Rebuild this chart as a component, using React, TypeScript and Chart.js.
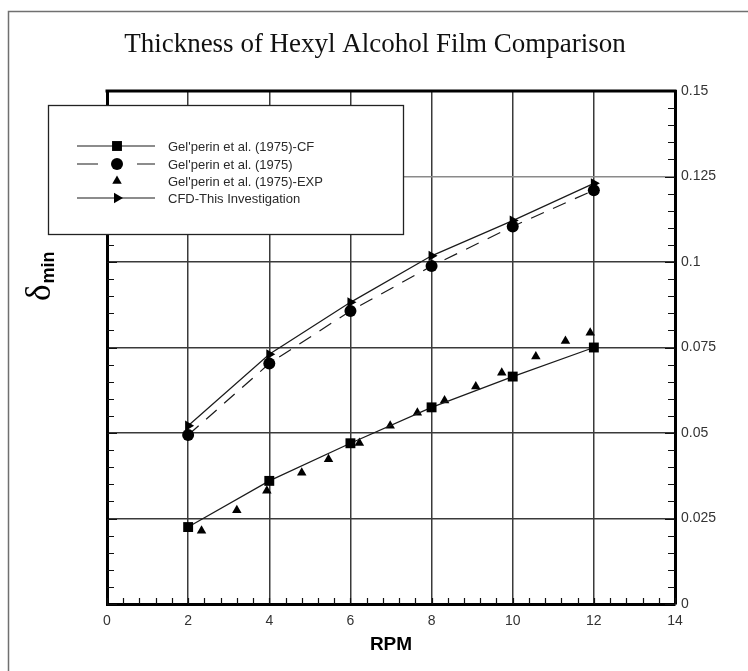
import React, { useEffect, useRef } from 'react';
import { Chart, registerables } from 'chart.js';
import { drawPoint } from 'chart.js/helpers';

Chart.register(...registerables);

const chartTitle = 'Thickness of Hexyl Alcohol Film Comparison';
const xAxisTitle = 'RPM';
const yTitleSymbol = 'δ';
const yTitleSub = 'min';

const seriesNames = [
  "Gel'perin et al. (1975)-CF",
  "Gel'perin et al. (1975)",
  "Gel'perin et al. (1975)-EXP",
  'CFD-This Investigation',
];

const rpmCF = [2, 4, 6, 8, 10, 12];
const deltaCF = [0.0225, 0.036, 0.047, 0.0575, 0.0665, 0.075];

const rpmGel = [2, 4, 6, 8, 10, 12];
const deltaGel = [0.0494, 0.0703, 0.0857, 0.0988, 0.1104, 0.121];

const rpmExp = [2.33, 3.2, 3.94, 4.8, 5.46, 6.22, 6.98, 7.65, 8.32, 9.09, 9.73, 10.57, 11.3, 11.91];
const deltaExp = [0.0214, 0.0274, 0.0331, 0.0384, 0.0423, 0.0471, 0.0521, 0.0559, 0.0595, 0.0636, 0.0676, 0.0724, 0.0769, 0.0793];

const rpmCFD = [2, 4, 6, 8, 10, 12];
const deltaCFD = [0.0521, 0.073, 0.0882, 0.1018, 0.1121, 0.123];

const xTickLabels = ['0', '2', '4', '6', '8', '10', '12', '14'];
const yTickLabels = ['0', '0.025', '0.05', '0.075', '0.1', '0.125', '0.15'];

const LINE = '#1a1a1a';
const SANS = "'Liberation Sans', Arial, sans-serif";
const SERIF = "'Liberation Serif', 'Times New Roman', serif";

const pts = (xs: number[], ys: number[]) => xs.map((x, i) => ({ x, y: ys[i] }));

const markerStyles = [
  { pointStyle: 'rect', radius: 7, rotation: 0 },
  { pointStyle: 'circle', radius: 6, rotation: 0 },
  { pointStyle: 'triangle', radius: 5.5, rotation: 0 },
  { pointStyle: 'triangle', radius: 6, rotation: 90 },
];

const decorPlugin = {
  id: 'decor',
  beforeDraw(chart: any) {
    const ctx = chart.ctx;
    ctx.save();
    ctx.fillStyle = '#ffffff';
    ctx.fillRect(0, 0, chart.width, chart.height);
    ctx.strokeStyle = '#707070';
    ctx.lineWidth = 1.5;
    ctx.beginPath();
    ctx.moveTo(8.5, chart.height);
    ctx.lineTo(8.5, 11.5);
    ctx.lineTo(chart.width, 11.5);
    ctx.stroke();
    ctx.restore();
  },
  afterDraw(chart: any) {
    const ctx = chart.ctx;
    const ca = chart.chartArea;
    const xs = chart.scales.x;
    const ys = chart.scales.y;
    ctx.save();
    // minor ticks (inward)
    ctx.strokeStyle = '#111';
    ctx.lineWidth = 1.2;
    ctx.beginPath();
    for (let i = 0; i <= 35; i++) {
      const v = i * 0.4;
      const px = Math.round(xs.getPixelForValue(v)) + 0.5;
      ctx.moveTo(px, ca.bottom);
      ctx.lineTo(px, ca.bottom - 6);
    }
    for (let i = 0; i <= 30; i++) {
      const v = i * 0.005;
      const py = Math.round(ys.getPixelForValue(v)) + 0.5;
      const len = i % 5 === 0 ? 10 : 7;
      ctx.moveTo(ca.right, py);
      ctx.lineTo(ca.right - len, py);
      ctx.moveTo(ca.left, py);
      ctx.lineTo(ca.left + len, py);
    }
    ctx.stroke();
    // top frame line
    ctx.lineWidth = 3;
    ctx.strokeStyle = '#000';
    ctx.beginPath();
    ctx.moveTo(ca.left - 1.5, ca.top);
    ctx.lineTo(ca.right + 1.5, ca.top);
    ctx.stroke();

    // legend box
    const bx = ca.left - 59;
    const by = ca.top + 14;
    const bw = 355;
    const bh = 129;
    ctx.fillStyle = '#fff';
    ctx.fillRect(bx, by, bw, bh);
    ctx.strokeStyle = '#222';
    ctx.lineWidth = 1.3;
    ctx.strokeRect(bx + 0.5, by + 0.5, bw, bh);

    const lx0 = ca.left - 30;
    const lx1 = ca.left + 48;
    const mx = ca.left + 10;
    const tx = ca.left + 61;
    const rows = [55, 73, 90, 107].map((d) => ca.top + d);
    ctx.font = `13px ${SANS}`;
    ctx.textBaseline = 'middle';
    ctx.textAlign = 'left';
    rows.forEach((ry, i) => {
      ctx.strokeStyle = LINE;
      ctx.lineWidth = 1.2;
      ctx.setLineDash([]);
      if (i === 0 || i === 3) {
        ctx.beginPath();
        ctx.moveTo(lx0, ry);
        ctx.lineTo(lx1, ry);
        ctx.stroke();
      } else if (i === 1) {
        ctx.beginPath();
        ctx.moveTo(lx0, ry);
        ctx.lineTo(lx0 + 21, ry);
        ctx.moveTo(lx1 - 18, ry);
        ctx.lineTo(lx1, ry);
        ctx.stroke();
      }
      ctx.fillStyle = '#000';
      ctx.strokeStyle = '#000';
      const ms = markerStyles[i];
      drawPoint(ctx, { ...ms, borderWidth: 0 } as any, mx, ry);
      ctx.fillStyle = '#2a2a2a';
      ctx.fillText(seriesNames[i], tx, ry + 1);
    });

    // y-axis title with subscript
    ctx.save();
    ctx.translate(50, 301);
    ctx.rotate(-Math.PI / 2);
    ctx.fillStyle = '#000';
    ctx.textBaseline = 'alphabetic';
    ctx.font = `35px ${SERIF}`;
    ctx.fillText(yTitleSymbol, 0, 0);
    const w = ctx.measureText(yTitleSymbol).width;
    ctx.font = `bold 18px ${SANS}`;
    ctx.fillText(yTitleSub, w + 1, 4);
    ctx.restore();

    ctx.restore();
  },
};

export default function App() {
  const ref = useRef<HTMLCanvasElement | null>(null);
  useEffect(() => {
    document.body.style.margin = '0';
    const canvas = ref.current;
    if (!canvas) return;
    const lineCommon = {
      borderColor: LINE,
      backgroundColor: '#000',
      pointBackgroundColor: '#000',
      pointBorderColor: '#000',
      pointBorderWidth: 0,
      borderWidth: 1.2,
      tension: 0,
    };
    const chart = new Chart(canvas, {
      type: 'scatter',
      data: {
        datasets: [
          {
            ...lineCommon,
            label: seriesNames[0],
            data: pts(rpmCF, deltaCF),
            showLine: true,
            pointStyle: 'rect',
            pointRadius: markerStyles[0].radius,
          },
          {
            ...lineCommon,
            label: seriesNames[1],
            data: pts(rpmGel, deltaGel),
            showLine: true,
            borderDash: [14, 10],
            pointStyle: 'circle',
            pointRadius: markerStyles[1].radius,
          },
          {
            ...lineCommon,
            label: seriesNames[2],
            data: pts(rpmExp, deltaExp),
            showLine: false,
            pointStyle: 'triangle',
            pointRadius: markerStyles[2].radius,
          },
          {
            ...lineCommon,
            label: seriesNames[3],
            data: pts(rpmCFD, deltaCFD),
            showLine: true,
            pointStyle: 'triangle',
            pointRotation: 90,
            pointRadius: markerStyles[3].radius,
          },
        ],
      },
      options: {
        responsive: false,
        animation: false,
        layout: { padding: { left: 2, right: 0, top: 0, bottom: 0 } },
        plugins: {
          legend: { display: false },
          tooltip: { enabled: false },
          title: {
            display: true,
            text: chartTitle,
            color: '#111',
            font: { family: SERIF, size: 27, weight: 'normal' },
            padding: { top: 29, bottom: 29.6 },
          },
        },
        scales: {
          x: {
            type: 'linear',
            position: 'bottom',
            min: 0,
            max: 14,
            ticks: {
              stepSize: 2,
              padding: 9,
              color: '#333',
              font: { family: SANS, size: 14 },
              callback: (_v: any, i: number) => xTickLabels[i],
              maxRotation: 0,
            },
            grid: { color: '#3a3a3a', lineWidth: 1.5, drawTicks: false },
            border: { display: true, color: '#000', width: 3 },
            title: {
              display: true,
              text: xAxisTitle,
              color: '#000',
              font: { family: SANS, size: 19, weight: 'bold' },
              padding: { top: 0, bottom: 15 },
            },
            afterFit: (s: any) => {
              s.height = 67;
            },
          },
          y: {
            type: 'linear',
            position: 'right',
            min: 0,
            max: 0.15,
            ticks: {
              stepSize: 0.025,
              padding: 6,
              color: '#333',
              font: { family: SANS, size: 14 },
              callback: (_v: any, i: number) => yTickLabels[i],
            },
            grid: {
              color: (c: any) =>
                c.tick && Math.abs(c.tick.value - 0.125) < 1e-6 ? '#8a8a8a' : '#3a3a3a',
              lineWidth: 1.5,
              drawTicks: false,
            },
            border: { display: true, color: '#000', width: 3 },
            afterFit: (s: any) => {
              s.width = 73;
            },
          },
          yLeft: {
            type: 'linear',
            position: 'left',
            min: 0,
            max: 0.15,
            ticks: { display: false, stepSize: 0.025 },
            grid: { display: false, drawTicks: false },
            border: { display: true, color: '#000', width: 3 },
            afterFit: (s: any) => {
              s.width = 105;
            },
          },
        },
      } as any,
      plugins: [decorPlugin],
    });
    return () => chart.destroy();
  }, []);
  return (
    <div style={{ position: 'fixed', left: 0, top: 0, width: 748, height: 671 }}>
      <canvas ref={ref} width={748} height={671} style={{ width: 748, height: 671 }} />
    </div>
  );
}
